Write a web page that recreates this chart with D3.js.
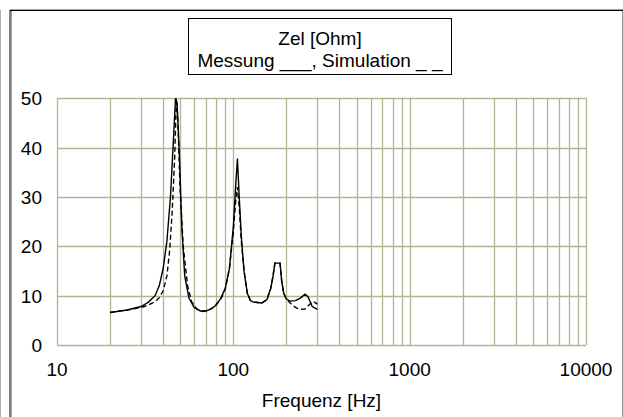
<!DOCTYPE html>
<html><head><meta charset="utf-8">
<script src="https://cdn.jsdelivr.net/npm/d3@7"></script>
<style>
html,body{margin:0;padding:0;background:#fff;}
svg{display:block;}
text{font-family:"Liberation Sans",Arial,sans-serif;fill:#000;}
</style></head>
<body>
<script>
const titleText = "Zel [Ohm]";
const legendText = "Messung ___, Simulation _ _";
const xLabel = "Frequenz [Hz]";
const xTickLabels = [10, 100, 1000, 10000];
const yTickLabels = [0, 10, 20, 30, 40, 50];

const messungFreq = [20,25,30,33,36,38,40,42,44,45.5,47,48,49.5,51,53,56,60,65,70,75,80,85,90,95,100,103,105.5,108,111,115,120,125,130,137,145,155,163,168,172,178,184,188,193,200,210,225,240,255,265,280,300];
const messungZ    = [6.6,7.1,7.8,8.7,10,12,15.5,21,30,40,50,49,38,24,14,9.5,7.6,6.9,6.9,7.3,8.1,9.5,11.5,15.5,24,32,37.8,30,22,15,10.5,9,8.7,8.6,8.5,9.2,11.5,14,16.6,16.6,16.6,13,10.5,9.3,8.9,9.0,9.5,10.3,9.8,7.8,7.2];
const simFreq = [20,25,30,33,36,38,40,42,43.5,45,46.5,47.5,48.5,50,52,55,58,62,67,72,78,85,90,95,100,103,105.5,108,111,115,120,125,130,137,145,155,163,168,172,178,184,188,193,200,210,225,240,255,270,285,300];
const simZ    = [6.6,7.1,7.6,8.1,8.8,9.6,11,14,19,27,38,50,45,31,20,12,8.8,7.3,6.8,7.0,7.8,9.3,11.3,15.5,23,29,32,28,21,15,10.5,9,8.7,8.6,8.5,9.2,11.5,14,16.6,16.6,16.6,13,10.5,9.3,8.5,7.6,7.2,7.3,8.2,8.8,8.3];

const W = 623, H = 417;
const svg = d3.select("body").append("svg").attr("width", W).attr("height", H);

// outer frame
svg.append("line").attr("x1",0.5).attr("x2",0.5).attr("y1",10).attr("y2",H).attr("stroke","#b0b0b0");
svg.append("line").attr("x1",622.5).attr("x2",622.5).attr("y1",10).attr("y2",H).attr("stroke","#909090");
svg.append("line").attr("x1",10).attr("x2",W).attr("y1",9.5).attr("y2",9.5).attr("stroke","#a0a0a0");
svg.append("line").attr("x1",10).attr("x2",W).attr("y1",10.5).attr("y2",10.5).attr("stroke","#000");
svg.append("line").attr("x1",10).attr("x2",10).attr("y1",10).attr("y2",H).attr("stroke","#000").attr("stroke-width",1);
svg.append("line").attr("x1",11.5).attr("x2",11.5).attr("y1",11).attr("y2",H).attr("stroke","#a0a0a0");

const x = d3.scaleLog().domain([10, 10000]).range([57, 586]);
const y = d3.scaleLinear().domain([0, 50]).range([345, 98.3]);
const gridColor = "#b4b494";

// grid
const minorTicks = [];
for (let d = 10; d < 10000; d *= 10) for (let k = 1; k < 10; k++) minorTicks.push(d * k);
minorTicks.push(10000);
const g = svg.append("g");
g.selectAll(".vg").data(minorTicks).join("line")
  .attr("x1", d => Math.round(x(d)) + 0.5).attr("x2", d => Math.round(x(d)) + 0.5)
  .attr("y1", y(50)).attr("y2", y(0)).attr("stroke", gridColor).attr("stroke-width", 1.3);
g.selectAll(".hg").data(yTickLabels).join("line")
  .attr("x1", x(10)).attr("x2", x(10000))
  .attr("y1", d => Math.round(y(d)) + 0.5).attr("y2", d => Math.round(y(d)) + 0.5)
  .attr("stroke", gridColor).attr("stroke-width", 1.3);

// axes labels
const fs = 19;
svg.selectAll(".yl").data(yTickLabels).join("text")
  .attr("x", 42).attr("y", d => y(d) + 7)
  .attr("text-anchor", "end").attr("font-size", fs).text(d => d);
svg.selectAll(".xl").data(xTickLabels).join("text")
  .attr("x", d => x(d)).attr("y", 376)
  .attr("text-anchor", "middle").attr("font-size", fs).text(d => d);
svg.append("text").attr("x", (x(10) + x(10000)) / 2).attr("y", 407)
  .attr("text-anchor", "middle").attr("font-size", fs).text(xLabel);

// legend box
svg.append("rect").attr("x", 188.5).attr("y", 18.5).attr("width", 263).attr("height", 56)
  .attr("fill", "#fff").attr("stroke", "#000").attr("stroke-width", 1);
svg.append("text").attr("x", 320).attr("y", 45)
  .attr("text-anchor", "middle").attr("font-size", fs).text(titleText);
svg.append("text").attr("x", 320).attr("y", 67)
  .attr("text-anchor", "middle").attr("font-size", fs).text(legendText);

// curves
svg.append("clipPath").attr("id", "clip").append("rect")
  .attr("x", x(10)).attr("y", y(50) - 1).attr("width", x(10000) - x(10)).attr("height", y(0) - y(50) + 1);
const line = d3.line().x(d => x(d[0])).y(d => y(d[1]));
const sim = simFreq.map((f, i) => [f, simZ[i]]);
const mes = messungFreq.map((f, i) => [f, messungZ[i]]);
svg.append("path").attr("d", line(sim)).attr("fill", "none").attr("stroke", "#000")
  .attr("stroke-width", 1.4).attr("stroke-dasharray", "5,3").attr("clip-path", "url(#clip)");
svg.append("path").attr("d", line(mes)).attr("fill", "none").attr("stroke", "#000")
  .attr("stroke-width", 1.4).attr("clip-path", "url(#clip)");
</script>
</body></html>
